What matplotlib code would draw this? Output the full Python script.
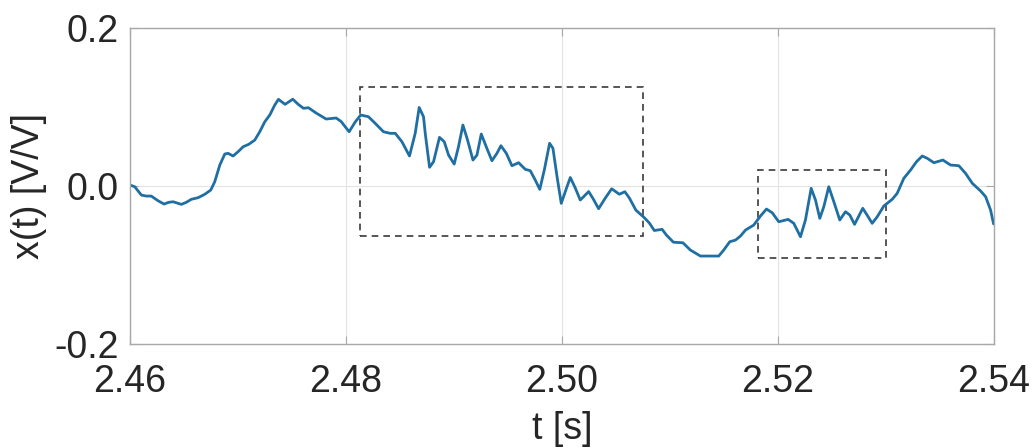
import matplotlib
matplotlib.use('Agg')
import matplotlib.pyplot as plt
from matplotlib.patches import Rectangle

plt.rcParams['font.family'] = ['Liberation Sans', 'DejaVu Sans']

# sampled signal x(t)
t = [2.46000, 2.46044, 2.46105, 2.46151, 2.46197, 2.46260, 2.46315, 2.46359, 2.46399, 2.46476,
     2.46522, 2.46568, 2.46630, 2.46692, 2.46748, 2.46785, 2.46832, 2.46878, 2.46908, 2.46955,
     2.47001, 2.47048, 2.47100, 2.47156, 2.47202, 2.47249, 2.47295, 2.47341, 2.47375, 2.47437,
     2.47508, 2.47560, 2.47607, 2.47653, 2.47724, 2.47817, 2.47910, 2.47956, 2.48030, 2.48086,
     2.48137, 2.48209, 2.48271, 2.48348, 2.48410, 2.48457, 2.48519, 2.48589, 2.48642, 2.48679,
     2.48719, 2.48735, 2.48775, 2.48812, 2.48867, 2.48911, 2.48951, 2.49003, 2.49043, 2.49084,
     2.49127, 2.49177, 2.49214, 2.49254, 2.49300, 2.49353, 2.49399, 2.49436, 2.49486, 2.49538,
     2.49600, 2.49662, 2.49708, 2.49754, 2.49796, 2.49838, 2.49887, 2.49918, 2.49956, 2.49995,
     2.50048, 2.50079, 2.50125, 2.50171, 2.50249, 2.50292, 2.50341, 2.50403, 2.50462, 2.50533,
     2.50584, 2.50626, 2.50686, 2.50758, 2.50811, 2.50857, 2.50929, 2.50969, 2.51034, 2.51122,
     2.51191, 2.51284, 2.51367, 2.51454, 2.51500, 2.51556, 2.51609, 2.51655, 2.51702, 2.51778,
     2.51840, 2.51896, 2.51949, 2.52010, 2.52097, 2.52149, 2.52211, 2.52257, 2.52310, 2.52350,
     2.52390, 2.52427, 2.52473, 2.52520, 2.52575, 2.52628, 2.52668, 2.52712, 2.52788, 2.52838,
     2.52875, 2.52922, 2.52983, 2.53061, 2.53107, 2.53168, 2.53231, 2.53286, 2.53339, 2.53385,
     2.53447, 2.53530, 2.53601, 2.53678, 2.53740, 2.53803, 2.53880, 2.53926, 2.53972, 2.54000]
x = [0.0013, -0.0009, -0.0114, -0.0127, -0.0127, -0.0186, -0.0228, -0.0206, -0.0199, -0.0232,
     -0.0206, -0.0168, -0.0148, -0.0105, -0.0051, 0.0054, 0.0266, 0.0405, 0.0414, 0.0380,
     0.0434, 0.0497, 0.0528, 0.0582, 0.0687, 0.0814, 0.0899, 0.1025, 0.1097, 0.1034,
     0.1099, 0.1032, 0.0984, 0.0991, 0.0924, 0.0848, 0.0861, 0.0816, 0.0687, 0.0810,
     0.0899, 0.0877, 0.0794, 0.0687, 0.0667, 0.0667, 0.0561, 0.0380, 0.0667, 0.0994,
     0.0877, 0.0667, 0.0237, 0.0308, 0.0616, 0.0561, 0.0392, 0.0278, 0.0497, 0.0772,
     0.0582, 0.0329, 0.0392, 0.0658, 0.0497, 0.0320, 0.0414, 0.0510, 0.0414, 0.0257,
     0.0295, 0.0211, 0.0194, 0.0076, -0.0042, 0.0203, 0.0541, 0.0477, 0.0118, -0.0219,
     -0.0009, 0.0108, -0.0025, -0.0177, -0.0070, -0.0165, -0.0287, -0.0152, -0.0035, -0.0104,
     -0.0072, -0.0152, -0.0304, -0.0392, -0.0468, -0.0563, -0.0548, -0.0620, -0.0711, -0.0718,
     -0.0810, -0.0886, -0.0886, -0.0886, -0.0810, -0.0705, -0.0684, -0.0633, -0.0557, -0.0494,
     -0.0380, -0.0291, -0.0338, -0.0452, -0.0422, -0.0472, -0.0642, -0.0430, -0.0029, -0.0177,
     -0.0409, -0.0262, -0.0009, -0.0199, -0.0430, -0.0325, -0.0367, -0.0485, -0.0282, -0.0389,
     -0.0472, -0.0389, -0.0253, -0.0168, -0.0092, 0.0097, 0.0203, 0.0308, 0.0380, 0.0351,
     0.0295, 0.0329, 0.0266, 0.0257, 0.0161, 0.0034, -0.0063, -0.0135, -0.0304, -0.0480]

# highlighted windows: (t_start, t_end, x_low, x_high)
windows = [(2.4813, 2.5075, -0.0627, 0.1250),
           (2.5182, 2.5300, -0.0908, 0.0203)]

xticks = [2.46, 2.48, 2.50, 2.52, 2.54]
yticks = [-0.2, 0.0, 0.2]

fig = plt.figure(figsize=(10.35, 4.48), dpi=100)
ax = fig.add_axes([0.1256, 0.232, 0.8344, 0.7055])

ax.plot(t, x, color='#1f6fa3', linewidth=2.0,
        solid_joinstyle='round', solid_capstyle='round')

for t0, t1, lo, hi in windows:
    ax.add_patch(Rectangle((t0, lo), t1 - t0, hi - lo, fill=False,
                           edgecolor='#3a3a3a', linewidth=1.2, linestyle=(0, (4, 3))))

ax.set_xlim(2.46, 2.54)
ax.set_ylim(-0.2, 0.2)
ax.set_xticks(xticks)
ax.set_xticklabels([f'{v:.2f}' for v in xticks])
ax.set_yticks(yticks)
ax.set_yticklabels([f'{v:.1f}' for v in yticks])
ax.grid(True, color='#e3e3e3', linewidth=0.8)
ax.set_axisbelow(True)

for s in ax.spines.values():
    s.set_color('#a8a8a8')
    s.set_linewidth(1.0)
ax.tick_params(direction='in', length=6, width=0.8, color='#a8a8a8',
               labelsize=27, labelcolor='#262626', top=True, right=True)
ax.tick_params(axis='x', pad=14)
ax.tick_params(axis='y', pad=8)

ax.set_xlabel('t [s]', fontsize=27, color='#262626', labelpad=8)
ax.set_ylabel('x(t) [V/V]', fontsize=27, color='#262626', labelpad=5)

fig.savefig('out.png', dpi=100)
